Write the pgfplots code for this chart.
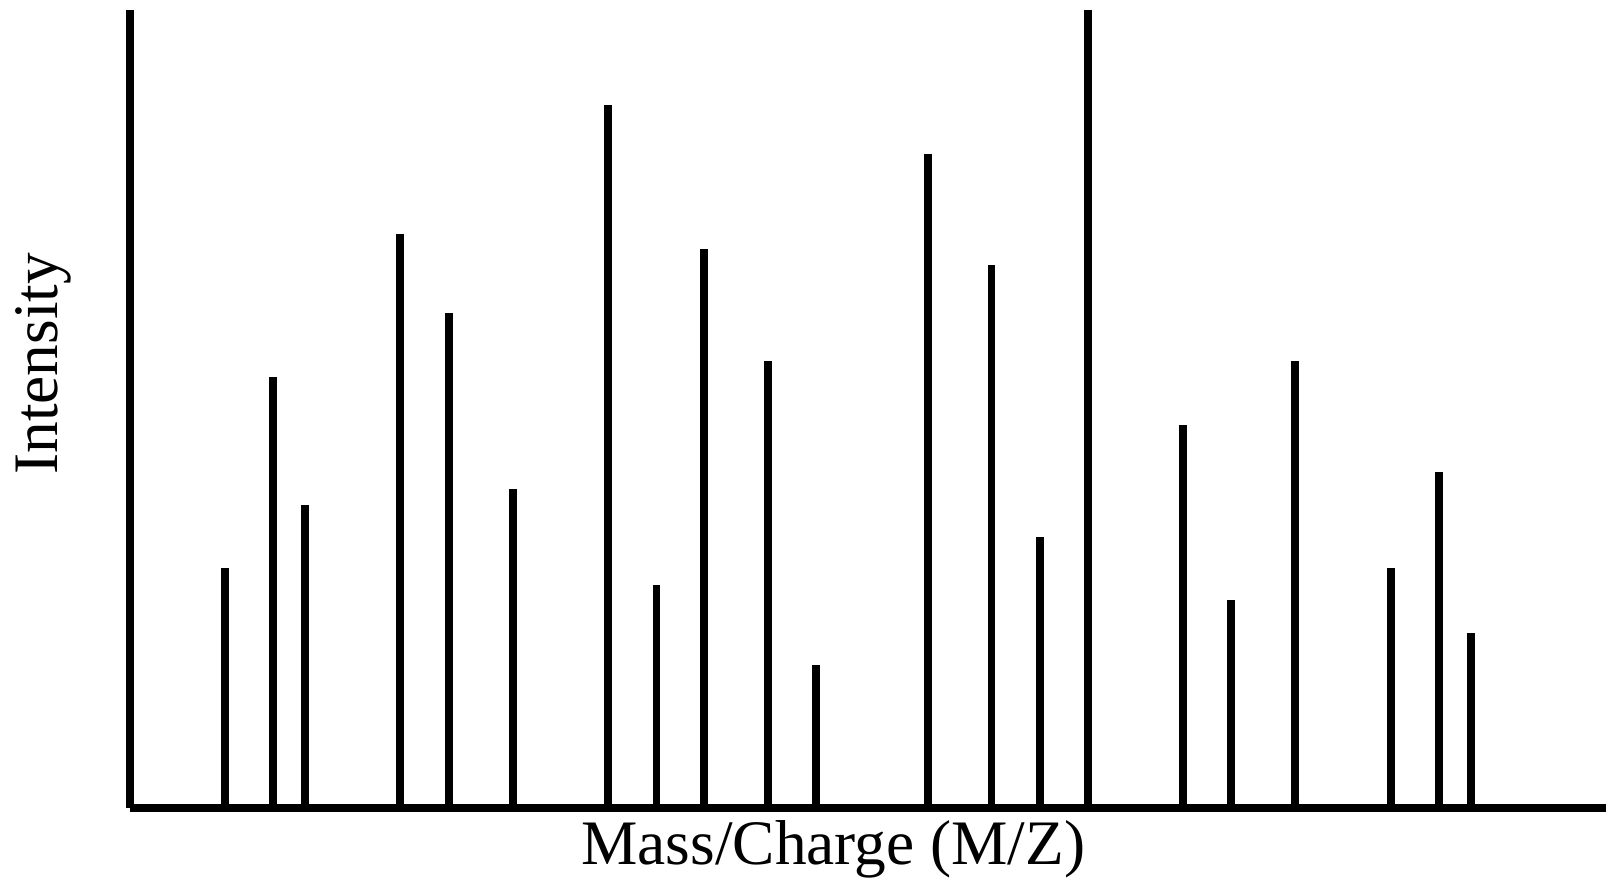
\documentclass[border=0pt]{standalone}
\usepackage{pgfplots}
\pgfplotsset{compat=1.18}
\usepackage{fontspec}
\setmainfont{Liberation Serif}

% peak positions and heights, measured in picture pixels
\begin{document}
\begin{tikzpicture}
\begin{axis}[
    scale only axis,
    width=14.41cm, height=7.79cm,
    xmin=127, xmax=1568,
    ymin=0, ymax=779,
    axis lines=left,
    axis line style={-, line width=2.2pt},
    xtick=\empty, ytick=\empty,
    clip=false,
    label style={font=\fontsize{17.6}{20}\selectfont, inner sep=0pt},
    xlabel={Mass/Charge (M/Z)},
    ylabel={Intensity},
    xlabel style={at={(rel axis cs:0.4765,-0.0706)}, anchor=base},
    ylabel style={at={(rel axis cs:-0.059,0.557)}, anchor=center},
]
\addplot[ycomb, draw=black, line width=2.2pt, mark=none] coordinates {
    (220,234) (267,421) (298,296) (391,561) (438,483) (501,312)
    (594,686) (641,218) (687,546) (750,437) (797,140)
    (906,639) (968,530) (1015,265) (1062,779)
    (1155,374) (1202,203) (1264,437)
    (1358,234) (1405,328) (1436,171)
};
\path (rel axis cs:-0.0881,1.0128) rectangle (rel axis cs:1,-0.0937);
\end{axis}
\end{tikzpicture}
\end{document}
